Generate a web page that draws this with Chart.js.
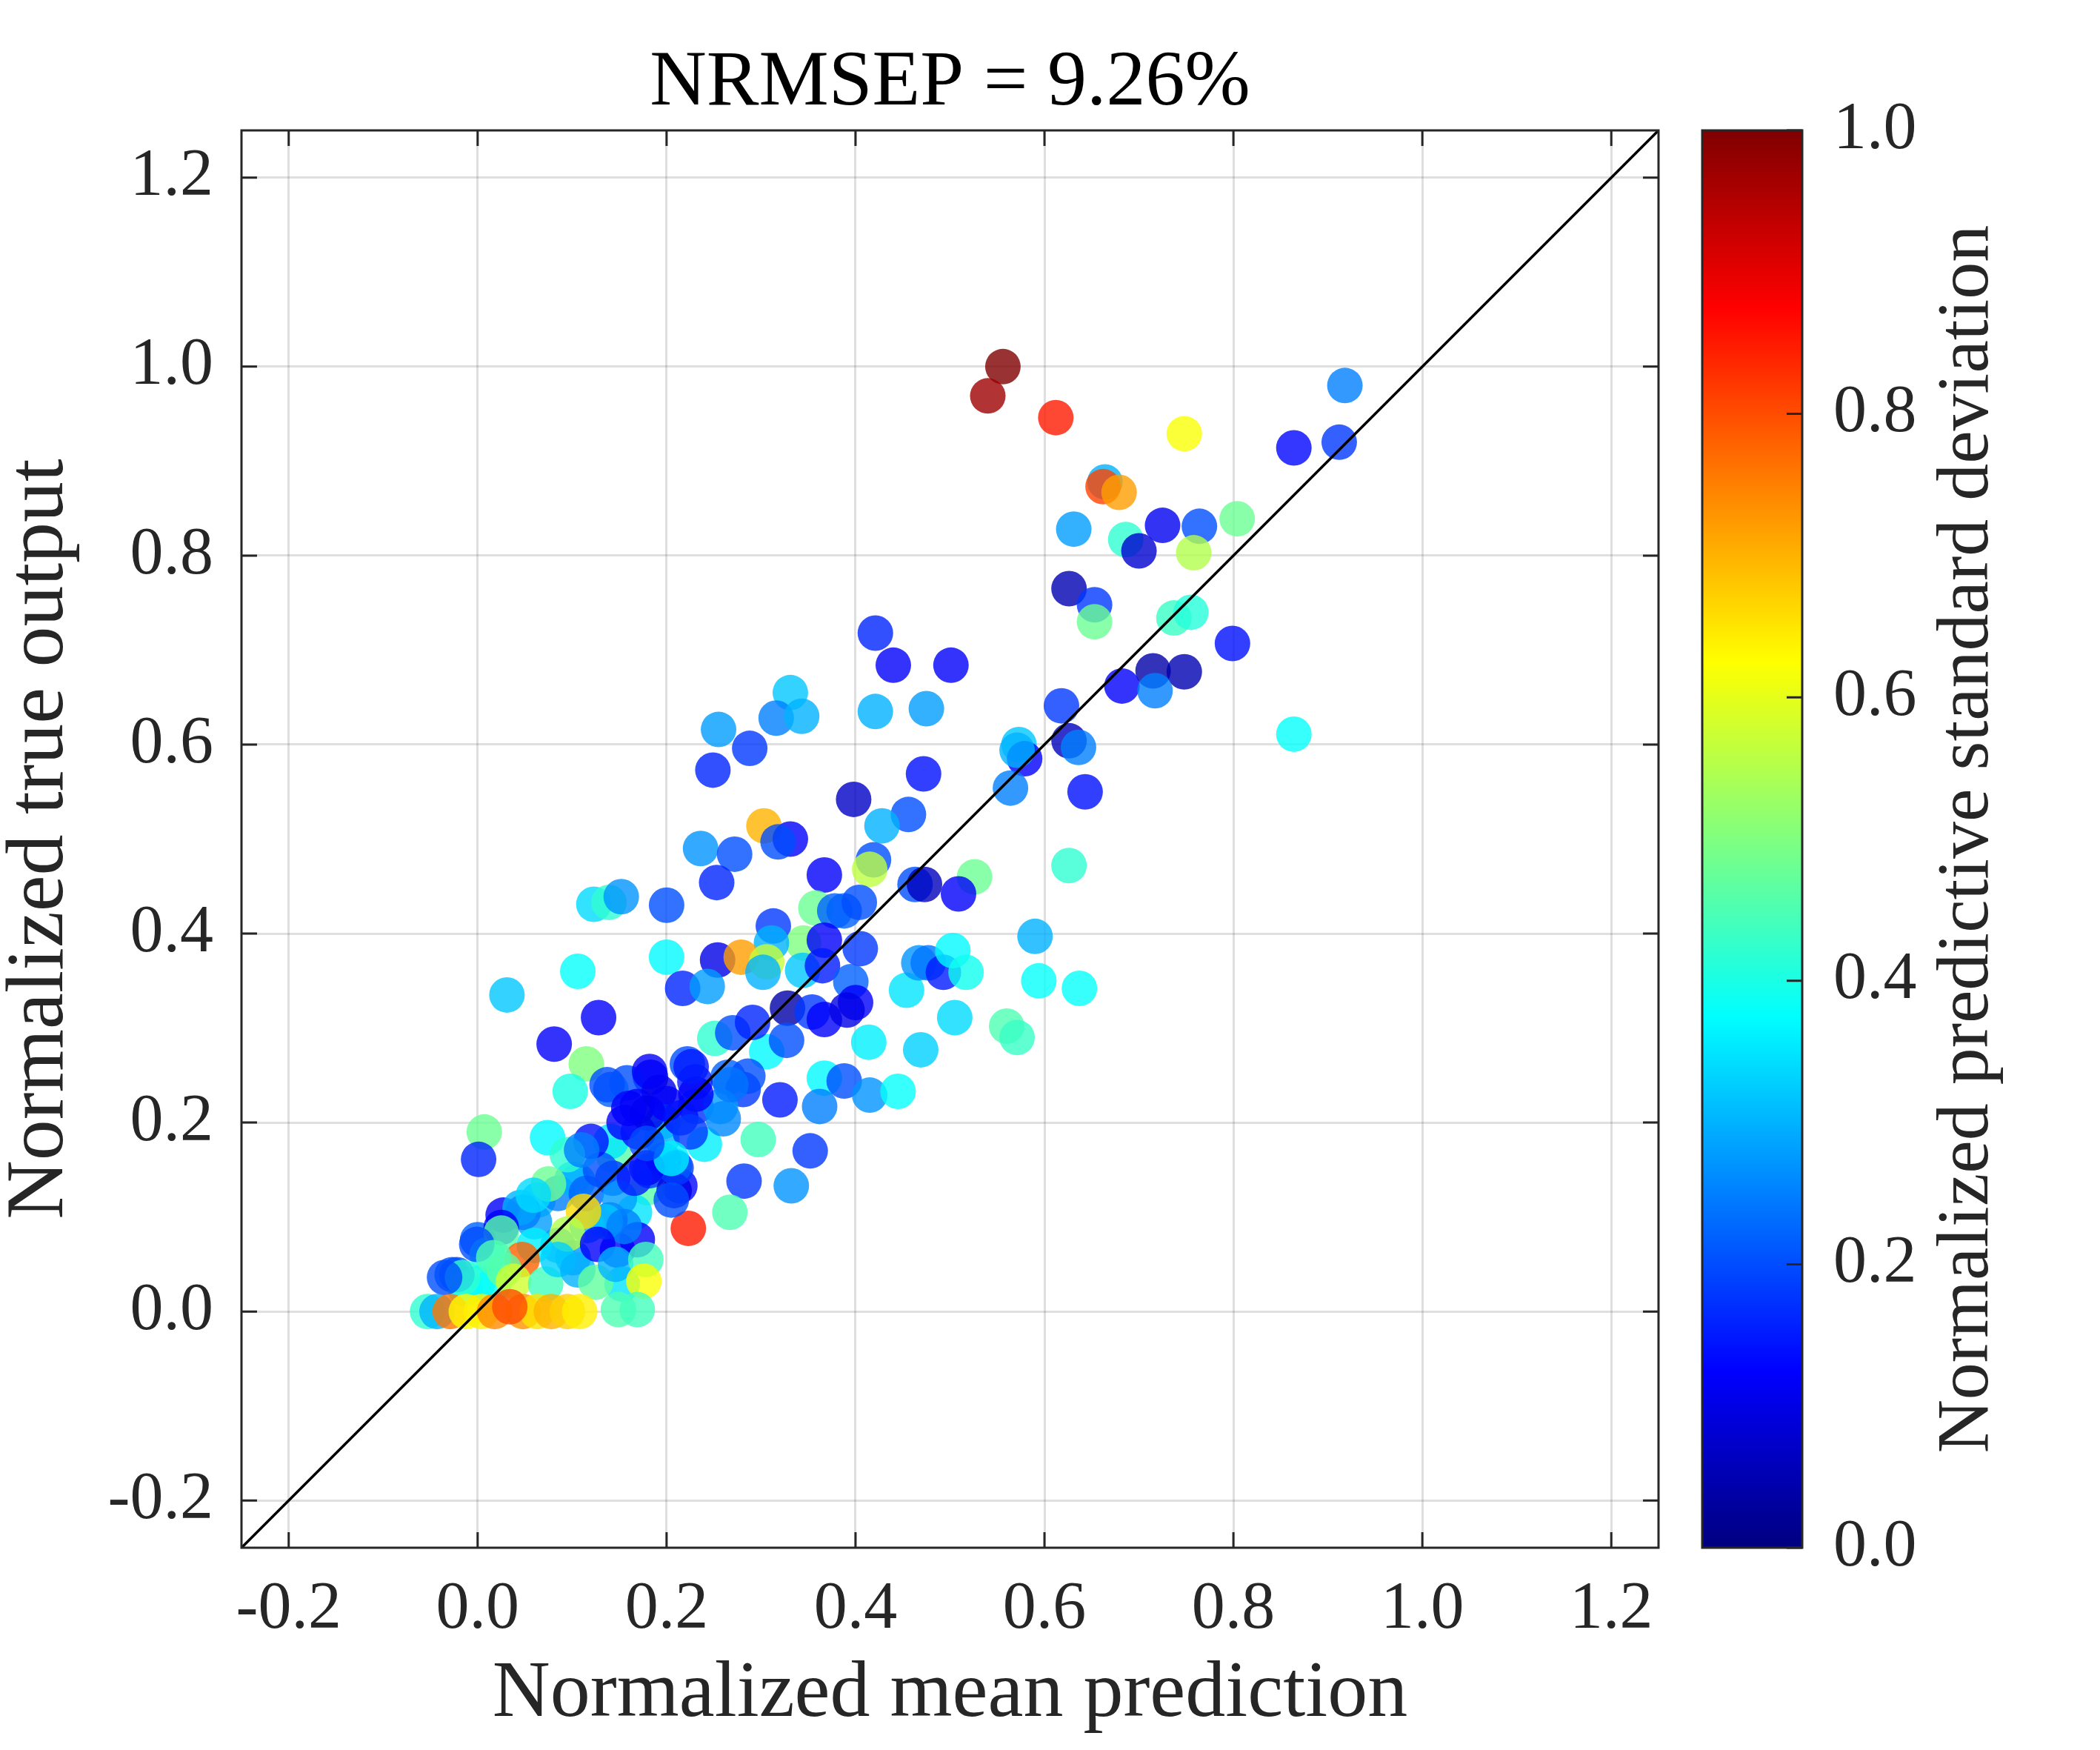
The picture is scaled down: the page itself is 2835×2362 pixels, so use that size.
<!DOCTYPE html>
<html>
<head>
<meta charset="utf-8">
<script src="https://cdn.jsdelivr.net/npm/chart.js@4.4.1/dist/chart.umd.min.js"></script>
<style>
  html, body { margin: 0; padding: 0; background: #fff; }
  #wrap { width: 2835px; height: 2362px; position: relative; }
</style>
</head>
<body>
<div id="wrap"><canvas id="nrmsepChart"></canvas></div>
<script>
const chartTitle = 'NRMSEP = 9.26%';
const xTitle = 'Normalized mean prediction';
const yTitle = 'Normalized true output';
const cbTitle = 'Normalized predictive standard deviation';

const axisMin = -0.25;
const axisMax = 1.25;
const axisTicks = [-0.2, 0.0, 0.2, 0.4, 0.6, 0.8, 1.0, 1.2];
const cbTicks = [0.0, 0.2, 0.4, 0.6, 0.8, 1.0];

// identity line y = x over the whole axis range
const refLine = [axisMin, axisMax];

// normalized mean prediction (x)
const predMean = [
    0.556, 0.540, 0.612, 0.748, 0.918, 0.864, 0.912, 0.664,
    0.662, 0.679, 0.631, 0.686, 0.700, 0.725, 0.764, 0.758,
    0.804, 0.626, 0.653, 0.653, 0.737, 0.755, 0.799, 0.715,
    0.748, 0.682, 0.717, 0.864, 0.618, 0.421, 0.440, 0.501,
    0.421, 0.475, 0.573, 0.579, 0.571, 0.626, 0.636, 0.564,
    0.643, 0.472, 0.398, 0.456, 0.428, 0.419, 0.415, 0.367,
    0.626, 0.526, 0.463, 0.473, 0.509, 0.331, 0.316, 0.343,
    0.255, 0.288, 0.249, 0.303, 0.331, 0.318, 0.236, 0.272,
    0.253, 0.358, 0.378, 0.123, 0.139, 0.152, 0.200, 0.313,
    0.345, 0.367, 0.311, 0.254, 0.279, 0.306, 0.302, 0.344,
    0.365, 0.200, 0.106, 0.031, 0.217, 0.243, 0.128, 0.081,
    0.115, 0.098, 0.007, 0.328, 0.354, 0.367, 0.306, 0.251,
    0.270, 0.291, 0.327, 0.367, 0.320, 0.362, 0.222, 0.265,
    0.281, 0.183, 0.158, 0.141, 0.192, 0.230, 0.231, 0.257,
    0.196, 0.405, 0.388, 0.404, 0.395, 0.400, 0.391, 0.286,
    0.388, 0.415, 0.445, 0.414, 0.469, 0.454, 0.505, 0.467,
    0.477, 0.493, 0.503, 0.517, 0.590, 0.594, 0.637, 0.560,
    0.571, 0.297, 0.352, 0.282, 0.332, 0.267, 0.223, 0.214,
    0.240, 0.260, 0.268, 0.231, 0.226, 0.208, 0.197, 0.180,
    0.166, 0.169, 0.182, 0.208, 0.137, 0.182, 0.144, 0.141,
    0.169, 0.195, 0.210, 0.179, 0.205, 0.143, 0.106, 0.064,
    0.048, 0.027, 0.000, -0.027, -0.013, 0.017, 0.085, 0.101,
    0.148, 0.153, 0.140, 0.116, 0.045, 0.060, 0.085, 0.100,
    0.115, 0.130, 0.150, 0.135, 0.155, 0.010, 0.000, 0.060,
    0.120, 0.155, 0.170, 0.180, 0.200, 0.215, 0.225, 0.160,
    0.001, 0.074, 0.095, 0.110, 0.205, 0.179, 0.166, 0.075,
    0.059, 0.112, 0.095, 0.025, 0.025, -0.001, -0.022, 0.047,
    0.028, 0.017, 0.038, 0.072, 0.085, 0.106, 0.127, 0.125,
    0.146, 0.178, 0.176, 0.149, 0.169, -0.016, -0.035, -0.053,
    -0.043, -0.029, -0.012, 0.004, 0.018, 0.048, 0.063, 0.078,
    0.095, 0.108, 0.034
];

// normalized true output (y)
const trueOut = [
    1.000, 0.969, 0.946, 0.929, 0.980, 0.914, 0.920, 0.878,
    0.873, 0.867, 0.828, 0.817, 0.805, 0.832, 0.831, 0.803,
    0.839, 0.765, 0.748, 0.730, 0.734, 0.740, 0.707, 0.678,
    0.677, 0.662, 0.657, 0.611, 0.641, 0.718, 0.684, 0.684,
    0.635, 0.638, 0.600, 0.585, 0.594, 0.604, 0.597, 0.554,
    0.550, 0.569, 0.542, 0.526, 0.514, 0.478, 0.468, 0.462,
    0.472, 0.460, 0.452, 0.452, 0.442, 0.655, 0.628, 0.630,
    0.616, 0.596, 0.573, 0.514, 0.500, 0.497, 0.490, 0.484,
    0.454, 0.427, 0.424, 0.431, 0.433, 0.439, 0.430, 0.408,
    0.390, 0.393, 0.390, 0.372, 0.375, 0.370, 0.359, 0.361,
    0.366, 0.375, 0.360, 0.335, 0.342, 0.344, 0.311, 0.283,
    0.262, 0.233, 0.190, 0.321, 0.317, 0.309, 0.275, 0.289,
    0.295, 0.306, 0.287, 0.247, 0.224, 0.217, 0.262, 0.248,
    0.235, 0.248, 0.242, 0.235, 0.232, 0.243, 0.217, 0.217,
    0.201, 0.384, 0.424, 0.433, 0.349, 0.327, 0.319, 0.249,
    0.244, 0.229, 0.233, 0.285, 0.277, 0.340, 0.311, 0.369,
    0.369, 0.359, 0.382, 0.359, 0.397, 0.350, 0.342, 0.302,
    0.290, 0.182, 0.170, 0.138, 0.133, 0.105, 0.088, 0.133,
    0.177, 0.204, 0.240, 0.230, 0.259, 0.154, 0.160, 0.131,
    0.105, 0.076, 0.149, 0.128, 0.240, 0.254, 0.165, 0.180,
    0.217, 0.183, 0.152, 0.152, 0.118, 0.141, 0.138, 0.118,
    0.105, 0.102, 0.076, 0.039, 0.024, 0.029, 0.070, 0.057,
    0.065, 0.029, 0.097, 0.091, 0.110, 0.095, 0.125, 0.140,
    0.125, 0.150, 0.120, 0.095, 0.090, 0.060, 0.030, 0.070,
    0.180, 0.200, 0.190, 0.210, 0.220, 0.205, 0.190, 0.215,
    0.161, 0.184, 0.166, 0.171, 0.162, 0.178, 0.141, 0.135,
    0.123, 0.106, 0.082, 0.089, 0.083, 0.071, 0.039, 0.055,
    0.044, 0.057, 0.032, 0.029, 0.055, 0.044, 0.071, 0.031,
    0.050, 0.055, 0.032, 0.002, 0.002, 0.036, 0.036, 0.000,
    0.000, 0.000, 0.000, 0.000, 0.000, 0.000, 0.000, 0.000,
    0.000, 0.000, 0.005
];

// normalized predictive standard deviation (colour)
const predStd = [
    1.00, 0.97, 0.85, 0.62, 0.25, 0.13, 0.18, 0.30,
    0.81, 0.72, 0.28, 0.42, 0.08, 0.11, 0.20, 0.55,
    0.48, 0.05, 0.18, 0.48, 0.43, 0.41, 0.14, 0.04,
    0.05, 0.12, 0.25, 0.38, 0.18, 0.16, 0.12, 0.12,
    0.30, 0.28, 0.32, 0.12, 0.30, 0.06, 0.25, 0.25,
    0.14, 0.14, 0.07, 0.20, 0.30, 0.20, 0.56, 0.12,
    0.42, 0.48, 0.20, 0.06, 0.12, 0.32, 0.25, 0.30,
    0.28, 0.18, 0.16, 0.70, 0.12, 0.20, 0.27, 0.20,
    0.16, 0.48, 0.22, 0.34, 0.42, 0.27, 0.20, 0.18,
    0.50, 0.12, 0.30, 0.10, 0.72, 0.57, 0.30, 0.32,
    0.15, 0.37, 0.38, 0.32, 0.16, 0.28, 0.12, 0.12,
    0.50, 0.40, 0.48, 0.04, 0.18, 0.12, 0.37, 0.42,
    0.20, 0.16, 0.20, 0.37, 0.15, 0.25, 0.20, 0.22,
    0.18, 0.12, 0.20, 0.22, 0.10, 0.15, 0.17, 0.28,
    0.30, 0.18, 0.22, 0.20, 0.22, 0.12, 0.10, 0.20,
    0.20, 0.27, 0.38, 0.36, 0.33, 0.35, 0.34, 0.27,
    0.24, 0.15, 0.37, 0.39, 0.30, 0.38, 0.38, 0.45,
    0.43, 0.44, 0.18, 0.18, 0.27, 0.45, 0.85, 0.13,
    0.36, 0.26, 0.24, 0.12, 0.15, 0.35, 0.22, 0.46,
    0.35, 0.12, 0.18, 0.10, 0.20, 0.12, 0.46, 0.35,
    0.12, 0.30, 0.18, 0.12, 0.20, 0.18, 0.30, 0.30,
    0.12, 0.12, 0.22, 0.21, 0.36, 0.38, 0.28, 0.27,
    0.12, 0.35, 0.18, 0.30, 0.30, 0.28, 0.25, 0.30,
    0.22, 0.20, 0.28, 0.32, 0.25, 0.40, 0.38, 0.36,
    0.14, 0.12, 0.14, 0.10, 0.12, 0.14, 0.18, 0.12,
    0.16, 0.37, 0.42, 0.25, 0.36, 0.20, 0.15, 0.48,
    0.34, 0.66, 0.55, 0.12, 0.46, 0.20, 0.20, 0.78,
    0.47, 0.45, 0.58, 0.44, 0.33, 0.30, 0.12, 0.47,
    0.30, 0.44, 0.62, 0.45, 0.44, 0.42, 0.20, 0.42,
    0.30, 0.76, 0.63, 0.64, 0.74, 0.73, 0.65, 0.70,
    0.67, 0.64, 0.80
];

const fontFamily = '"Liberation Serif", "DejaVu Serif", serif';
const axisColor = '#262626';

// MATLAB jet colormap
function jet(v, alpha) {
    const clamp = (t) => Math.max(0, Math.min(1, t));
    const r = clamp(1.5 - Math.abs(4 * v - 3));
    const g = clamp(1.5 - Math.abs(4 * v - 2));
    const b = clamp(1.5 - Math.abs(4 * v - 1));
    return 'rgba(' + Math.round(r * 255) + ',' + Math.round(g * 255) + ',' + Math.round(b * 255) + ',' + alpha + ')';
}

// fixed box sizes, and no label overhang padding (it would push the plot down)
function fixBox(size) {
    return (s) => {
        if (s.isHorizontal()) s.height = size; else s.width = size;
        s.paddingTop = 0;
        s.paddingBottom = 0;
        s.paddingLeft = 0;
        s.paddingRight = 0;
    };
}

const framePlugin = {
    id: 'frame',
    afterDraw(chart) {
        const ctx = chart.ctx;
        const area = chart.chartArea;
        const xs = chart.scales.x;
        const ys = chart.scales.y;
        const cb = chart.scales.cb;
        const tickLen = 21;

        ctx.save();
        ctx.strokeStyle = axisColor;
        ctx.lineWidth = 3;

        // inner ticks on all four sides
        ctx.beginPath();
        axisTicks.forEach((v) => {
            const px = xs.getPixelForValue(v);
            ctx.moveTo(px, area.bottom);
            ctx.lineTo(px, area.bottom - tickLen);
            ctx.moveTo(px, area.top);
            ctx.lineTo(px, area.top + tickLen);
            const py = ys.getPixelForValue(v);
            ctx.moveTo(area.left, py);
            ctx.lineTo(area.left + tickLen, py);
            ctx.moveTo(area.right, py);
            ctx.lineTo(area.right - tickLen, py);
        });
        ctx.stroke();
        ctx.strokeRect(area.left, area.top, area.right - area.left, area.bottom - area.top);

        // colour bar
        const barLeft = area.right + 59;
        const barWidth = 135;
        const y0 = cb.getPixelForValue(0);
        const y1 = cb.getPixelForValue(1);
        const grad = ctx.createLinearGradient(0, y0, 0, y1);
        for (let i = 0; i <= 8; i++) {
            grad.addColorStop(i / 8, jet(i / 8, 1));
        }
        ctx.fillStyle = grad;
        ctx.fillRect(barLeft, y1, barWidth, y0 - y1);
        ctx.beginPath();
        cbTicks.forEach((v) => {
            const py = cb.getPixelForValue(v);
            ctx.moveTo(barLeft + barWidth, py);
            ctx.lineTo(barLeft + barWidth - tickLen, py);
        });
        ctx.stroke();
        ctx.strokeRect(barLeft, y1, barWidth, y0 - y1);

        // colour bar label, reading bottom to top
        ctx.fillStyle = axisColor;
        ctx.font = '100px ' + fontFamily;
        ctx.textAlign = 'center';
        ctx.textBaseline = 'middle';
        ctx.translate(area.right + 418, (y0 + y1) / 2);
        ctx.rotate(-Math.PI / 2);
        ctx.fillText(cbTitle, 0, 0);
        ctx.restore();
    }
};

function main() {
    Chart.defaults.font.family = fontFamily;
    Chart.defaults.color = axisColor;

    const points = predMean.map((x, i) => ({ x: x, y: trueOut[i] }));
    const colors = predStd.map((c) => jet(c, 0.8));

    const gridOpts = {
        color: 'rgba(38,38,38,0.15)',
        lineWidth: 3,
        drawTicks: false
    };

    new Chart('nrmsepChart', {
        type: 'scatter',
        data: {
            datasets: [{
                type: 'line',
                data: refLine.map((v) => ({ x: v, y: v })),
                borderColor: '#000',
                borderWidth: 3.5,
                pointRadius: 0,
                fill: false,
                order: 0
            }, {
                data: points,
                backgroundColor: colors,
                borderWidth: 0,
                pointRadius: 24,
                pointHoverRadius: 24,
                order: 1
            }]
        },
        options: {
            responsive: true,
            maintainAspectRatio: false,
            devicePixelRatio: 1,
            animation: false,
            events: [],
            layout: { padding: 0 },
            plugins: {
                legend: { display: false },
                tooltip: { enabled: false },
                title: { display: false }
            },
            scales: {
                // top axis only carries the title, so it is centred over the plot box
                top: {
                    type: 'linear',
                    axis: 'x',
                    position: 'top',
                    min: axisMin,
                    max: axisMax,
                    afterFit: fixBox(176),
                    grid: { display: false, drawTicks: false },
                    border: { display: false },
                    ticks: { display: false },
                    title: {
                        display: true,
                        text: chartTitle,
                        color: '#000',
                        font: { size: 106, lineHeight: 1 },
                        padding: { top: 60, bottom: 0 }
                    }
                },
                x: {
                    type: 'linear',
                    min: axisMin,
                    max: axisMax,
                    afterBuildTicks: (s) => { s.ticks = axisTicks.map((v) => ({ value: v })); },
                    afterFit: fixBox(273),
                    grid: gridOpts,
                    border: { display: false },
                    ticks: {
                        padding: 30,
                        font: { size: 90 },
                        color: axisColor,
                        maxRotation: 0,
                        callback: (v) => Number(v).toFixed(1)
                    },
                    title: {
                        display: true,
                        text: xTitle,
                        color: axisColor,
                        font: { size: 108, lineHeight: 1 },
                        padding: { top: 0, bottom: 20 }
                    }
                },
                y: {
                    type: 'linear',
                    min: axisMin,
                    max: axisMax,
                    afterBuildTicks: (s) => { s.ticks = axisTicks.map((v) => ({ value: v })); },
                    afterFit: fixBox(326),
                    grid: gridOpts,
                    border: { display: false },
                    ticks: {
                        padding: 38,
                        font: { size: 90 },
                        color: axisColor,
                        callback: (v) => Number(v).toFixed(1)
                    },
                    title: {
                        display: true,
                        text: yTitle,
                        color: axisColor,
                        font: { size: 110, lineHeight: 1 },
                        padding: { top: 0, bottom: 0 }
                    }
                },
                cb: {
                    type: 'linear',
                    axis: 'y',
                    position: 'right',
                    min: 0,
                    max: 1,
                    afterBuildTicks: (s) => { s.ticks = cbTicks.map((v) => ({ value: v })); },
                    afterFit: fixBox(596),
                    grid: { display: false, drawTicks: false },
                    border: { display: false },
                    ticks: {
                        padding: 236,
                        font: { size: 90 },
                        color: axisColor,
                        callback: (v) => Number(v).toFixed(1)
                    }
                }
            }
        },
        plugins: [framePlugin]
    });
}

window.onload = main;
</script>
</body>
</html>
